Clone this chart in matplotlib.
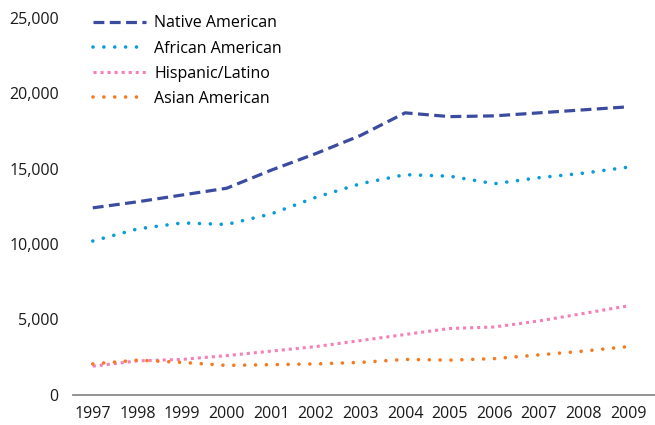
"""Line chart: counts by group, 1997-2009."""

import matplotlib
matplotlib.use('Agg')
import matplotlib.pyplot as plt
from matplotlib.ticker import FuncFormatter

plt.rcParams['font.family'] = ['Open Sans', 'DejaVu Sans']

years = [1997, 1998, 1999, 2000, 2001, 2002, 2003, 2004, 2005, 2006, 2007, 2008, 2009]
native = [12400, 12800, 13250, 13700, 14900, 16000, 17200, 18700, 18450, 18500, 18700, 18900, 19100]
african = [10200, 11000, 11400, 11300, 12000, 13100, 14000, 14600, 14500, 14000, 14400, 14700, 15100]
hispanic = [1900, 2250, 2350, 2600, 2900, 3200, 3600, 4000, 4400, 4500, 4900, 5400, 5900]
asian = [2050, 2300, 2150, 1950, 2000, 2050, 2150, 2350, 2300, 2400, 2650, 2900, 3200]

series = [
    ('Native American', native, '#3b4ba0', dict(lw=2.3, ls=(0, (3.4, 1.7)), dash_capstyle='butt')),
    ('African American', african, '#0a9bd9', dict(lw=2.6, ls=(0, (0.01, 3.0)), dash_capstyle='round')),
    ('Hispanic/Latino', hispanic, '#f47fb9', dict(lw=2.2, ls=(0, (1.0, 1.3)), dash_capstyle='butt')),
    ('Asian American', asian, '#f47a20', dict(lw=2.6, ls=(0, (0.01, 3.0)), dash_capstyle='round')),
]

fig = plt.figure(figsize=(6.55, 4.25), dpi=100)
ax = fig.add_axes([0.111, 0.071, 0.889, 0.887])

for label, vals, color, style in series:
    ax.plot(years, vals, color=color, label=label, **style)

ax.set_xlim(1996.55, 2009.6)
ax.set_ylim(0, 25000)
ax.set_xticks(years)
ax.set_yticks(range(0, 25001, 5000))
ax.yaxis.set_major_formatter(FuncFormatter(lambda v, _: f'{int(v):,}'))
ax.tick_params(axis='both', length=0, labelsize=11.5, colors='#1a1a1a')
ax.tick_params(axis='y', pad=10)
ax.tick_params(axis='x', pad=8)

for side in ('top', 'right', 'left'):
    ax.spines[side].set_visible(False)
ax.spines['bottom'].set_color('#8a8a8a')
ax.spines['bottom'].set_linewidth(1.3)

leg = ax.legend(loc='upper left', bbox_to_anchor=(0.01, 1.045), frameon=False,
                fontsize=11.5, handlelength=3.3, handletextpad=0.55, labelspacing=0.58)

fig.savefig('out.png', dpi=100)
